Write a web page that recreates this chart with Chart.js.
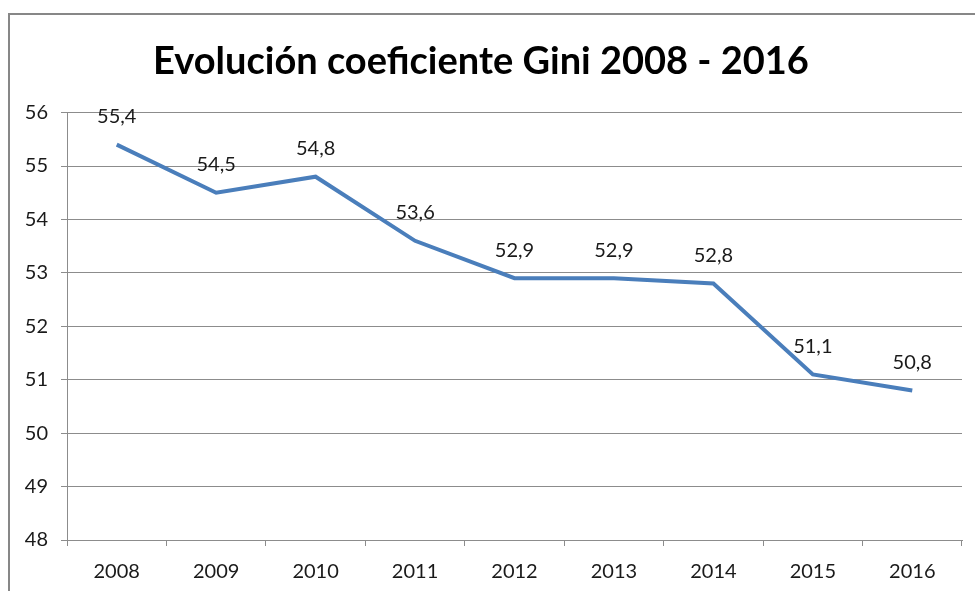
<!DOCTYPE html>
<html>
<head>
<meta charset="utf-8">
<script src="https://cdn.jsdelivr.net/npm/chart.js@4.4.0/dist/chart.umd.min.js"></script>
<style>
  html, body { margin: 0; padding: 0; background: #fff; }
  #wrap { width: 975px; height: 591px; position: relative; }
</style>
</head>
<body>
<div id="wrap"><canvas id="gini"></canvas></div>
<script>
const years = ["2008", "2009", "2010", "2011", "2012", "2013", "2014", "2015", "2016"];
const gini = [55.4, 54.5, 54.8, 53.6, 52.9, 52.9, 52.8, 51.1, 50.8];
const yTicks = [48, 49, 50, 51, 52, 53, 54, 55, 56];

const frame = {
  id: "frame",
  beforeDraw(chart) {
    const ctx = chart.ctx;
    ctx.save();
    ctx.fillStyle = "#fff";
    ctx.fillRect(0, 0, chart.width, chart.height);
    ctx.strokeStyle = "#878787";
    ctx.lineWidth = 2;
    ctx.strokeRect(9, 14, 1200, 1200);
    ctx.restore();
  },
};

const valueLabels = {
  id: "valueLabels",
  afterDatasetsDraw(chart) {
    const ctx = chart.ctx;
    const meta = chart.getDatasetMeta(0);
    ctx.save();
    ctx.font = "20px Lato";
    ctx.fillStyle = "#1a1a1a";
    ctx.textAlign = "center";
    ctx.textBaseline = "middle";
    meta.data.forEach(function (pt, i) {
      const txt = gini[i].toFixed(1).replace(".", ",");
      ctx.fillText(txt, pt.x, pt.y - 28);
    });
    ctx.restore();
  },
};

new Chart(document.getElementById("gini"), {
  type: "line",
  data: {
    labels: years,
    datasets: [
      {
        data: gini,
        borderColor: "#4A7EBB",
        borderWidth: 4,
        pointRadius: 0,
        tension: 0,
        fill: false,
      },
    ],
  },
  options: {
    responsive: true,
    maintainAspectRatio: false,
    animation: false,
    layout: { padding: { left: 0, right: 13, top: 0, bottom: 0 } },
    plugins: {
      legend: { display: false },
      tooltip: { enabled: false },
      title: {
        display: true,
        text: "Evolución coeficiente Gini 2008 - 2016",
        color: "#000",
        font: { family: "Lato", size: 38, weight: "bold", lineHeight: 1.2 },
        padding: { top: 39, bottom: 28 },
      },
    },
    scales: {
      x: {
        offset: true,
        grid: {
          offset: true,
          drawOnChartArea: false,
          drawTicks: true,
          tickLength: 6,
          color: "#8c8c8c",
        },
        border: { display: true, color: "#8c8c8c" },
        ticks: {
          color: "#1a1a1a",
          font: { family: "Lato", size: 20 },
          padding: 14,
          maxRotation: 0,
        },
        afterFit(scale) {
          scale.height = 51;
        },
      },
      y: {
        min: 48,
        max: 56,
        afterBuildTicks(scale) {
          scale.ticks = yTicks.map((v) => ({ value: v }));
        },
        grid: {
          color: "#8c8c8c",
          tickLength: 6,
        },
        border: { display: true, color: "#8c8c8c" },
        ticks: {
          color: "#1a1a1a",
          font: { family: "Lato", size: 20 },
          padding: 13,
        },
        afterFit(scale) {
          scale.width = 67;
        },
      },
    },
  },
  plugins: [frame, valueLabels],
});
</script>
</body>
</html>
